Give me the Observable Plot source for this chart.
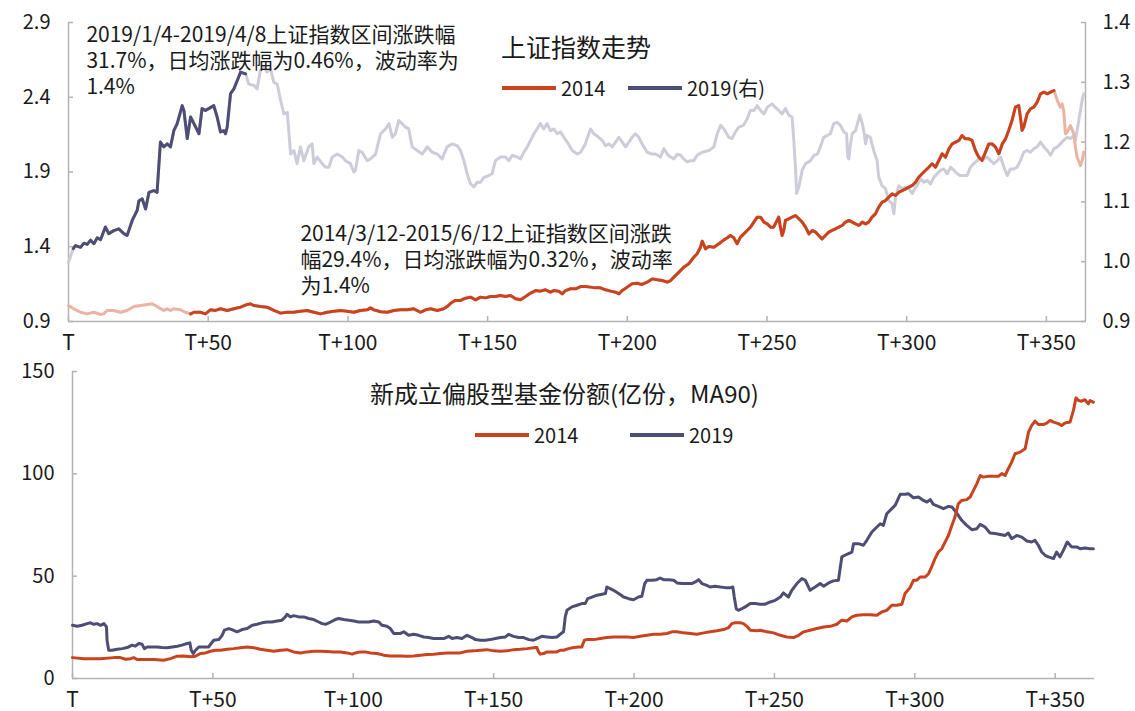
<!DOCTYPE html>
<html><head><meta charset="utf-8">
<script src="https://cdn.jsdelivr.net/npm/d3@7"></script>
<script src="https://cdn.jsdelivr.net/npm/@observablehq/plot@0.6"></script>
<style>
html,body{margin:0;padding:0;background:#fff;overflow:hidden}
body{font-family:"Noto Sans CJK SC","Noto Sans",sans-serif;color:#1a1a1a}
.panel{position:relative;width:1135px}
.panel svg{display:block}
.ov{position:absolute;white-space:nowrap;line-height:1;transform:translateY(-50%)}
.lg{display:flex;align-items:center;font-size:20px}
.sw{display:inline-block;width:54px;height:4px;margin-right:5px}
</style></head><body>
<div class="panel" id="p1"></div>
<div class="panel" id="p2"></div>
<script>
// ---------- data ----------
const xTicks = [0, 50, 100, 150, 200, 250, 300, 350];
const topLeftTicks = [0.9, 1.4, 1.9, 2.4, 2.9];
const topRightTicks = [0.9, 1.0, 1.1, 1.2, 1.3, 1.4];
const bottomTicks = [0, 50, 100, 150];
const hl2014 = [43.7, 352.7];   // 2014/3/12-2015/6/12
const hl2019 = [1.7, 63.4];     // 2019/1/4-2019/4/8

// 上证指数 2014 (left axis)
const sh2014 = [[0,1.007],[1.9,0.985],[4.3,0.962],[6.7,0.951],[9.1,0.962],[11.5,0.947],[12.6,0.951],[13.8,0.974],[16.2,0.974],[18.6,0.962],[21,0.974],[23.4,1.000],[25.8,1.007],[28.2,1.014],[30,1.018],[31.1,1.007],[33,0.985],[34.1,0.974],[35.3,0.985],[36.5,0.974],[37.7,0.985],[40.1,0.978],[41.9,0.962],[43.7,0.951],[44.9,0.962],[47.2,0.962],[49,0.951],[50.8,0.978],[52.6,0.974],[54.4,0.985],[56.8,0.974],[59.2,0.985],[61.6,0.996],[64,1.014],[65.1,1.018],[66.3,1.007],[68.7,1.000],[71.1,0.996],[73.5,0.974],[75.9,0.956],[78.3,0.962],[80.6,0.962],[83,0.969],[85.4,0.974],[87.8,0.962],[90.2,0.951],[92.6,0.962],[95,0.969],[97.4,0.974],[99.7,0.969],[102.1,0.962],[104.5,0.974],[106.9,0.978],[108.1,0.991],[109.3,0.978],[111.7,0.965],[114.1,0.962],[116.4,0.974],[118.8,0.978],[121.2,0.978],[123.6,0.985],[126,0.962],[127.8,0.978],[129.6,0.985],[132,0.974],[134.3,0.985],[135.5,1.000],[137.3,1.029],[138.5,1.041],[140.3,1.041],[142.1,1.056],[143.9,1.063],[145.7,1.045],[147.5,1.063],[149.3,1.058],[151,1.067],[152.8,1.067],[154.6,1.074],[156.4,1.067],[158.2,1.074],[160,1.052],[161.8,1.045],[163.6,1.067],[165.4,1.090],[167.2,1.107],[168.9,1.103],[170.7,1.112],[172.5,1.096],[173.7,1.107],[175.5,1.103],[176.7,1.085],[177.9,1.107],[179.7,1.119],[181.5,1.119],[183.3,1.134],[185,1.134],[186.8,1.130],[188.6,1.125],[190.4,1.125],[192.2,1.112],[194,1.103],[195.8,1.096],[197,1.085],[198.2,1.107],[200,1.130],[201.7,1.152],[203.5,1.156],[205.3,1.148],[207.1,1.163],[208.9,1.185],[210.7,1.179],[212.5,1.174],[214.3,1.163],[215.5,1.174],[216.7,1.197],[218.5,1.230],[220.2,1.263],[222,1.286],[223.8,1.330],[225,1.353],[226.2,1.397],[226.8,1.437],[228,1.386],[229.2,1.402],[231,1.397],[232.8,1.420],[234.6,1.446],[235.8,1.460],[236.9,1.475],[238.1,1.460],[239.3,1.420],[240.5,1.464],[241.7,1.486],[242.9,1.509],[244.1,1.531],[245.3,1.565],[246.5,1.598],[247.7,1.598],[248.9,1.565],[250.1,1.553],[251.3,1.531],[252.4,1.531],[253.6,1.576],[254.2,1.598],[254.8,1.531],[255.4,1.475],[256,1.509],[256.6,1.576],[257.8,1.587],[259,1.598],[260.2,1.609],[261.4,1.587],[262.6,1.565],[263.8,1.531],[265,1.486],[266.2,1.509],[267.4,1.498],[268.5,1.475],[269.7,1.453],[270.9,1.475],[272.1,1.498],[273.3,1.509],[274.5,1.520],[275.7,1.531],[276.9,1.542],[278.1,1.565],[279.3,1.576],[280.5,1.565],[281.7,1.553],[282.9,1.542],[284.1,1.565],[285.3,1.553],[286.4,1.565],[287.6,1.598],[288.8,1.620],[290,1.665],[291.2,1.698],[292.4,1.709],[293.6,1.732],[294.8,1.754],[296,1.743],[297.2,1.765],[298.4,1.776],[299.6,1.787],[300.8,1.799],[302,1.810],[303.2,1.832],[304.3,1.865],[305.5,1.888],[306.7,1.910],[307.9,1.932],[309.1,1.955],[310.3,1.932],[311.5,1.977],[312.7,2.022],[313.9,1.999],[315.1,2.055],[316.3,2.088],[317.5,2.100],[318.7,2.111],[319.8,2.144],[321,2.122],[322.2,2.122],[323.4,2.111],[324.6,2.044],[325.8,1.999],[327,1.977],[328.2,2.033],[329.4,2.088],[330.6,2.088],[331.8,2.066],[333,2.022],[334.2,2.088],[335.4,2.122],[336.5,2.178],[337.7,2.244],[338.9,2.334],[340.1,2.345],[340.7,2.267],[341.3,2.178],[341.9,2.200],[343.1,2.289],[344.3,2.323],[345.5,2.334],[346.7,2.367],[347.9,2.423],[349.1,2.434],[350.3,2.423],[351.5,2.434],[352.7,2.445],[353.9,2.378],[355,2.334],[355.6,2.356],[356.2,2.311],[356.8,2.155],[357.4,2.166],[358.6,2.211],[359.8,2.155],[360.4,2.066],[361,1.999],[362.2,1.943],[362.8,1.977],[363.4,2.033]];

// 上证指数 2019 (right axis)
const sh2019 = [[0,0.999],[1.7,1.022],[2.5,1.027],[4.3,1.024],[5.5,1.031],[6.7,1.029],[7.9,1.036],[9.1,1.030],[10.3,1.040],[11.5,1.037],[13.2,1.058],[14.4,1.047],[16.2,1.052],[18,1.055],[19.8,1.047],[21,1.044],[22.8,1.069],[24.6,1.086],[25.2,1.102],[26.4,1.105],[27.6,1.088],[28.8,1.116],[30.5,1.119],[31.7,1.116],[32.9,1.200],[34.1,1.192],[35.3,1.197],[36.5,1.192],[37.7,1.219],[38.9,1.231],[40.7,1.261],[41.3,1.253],[42.5,1.206],[43.7,1.242],[44.9,1.231],[46.7,1.214],[47.8,1.256],[49,1.253],[50.2,1.256],[52,1.261],[53.2,1.242],[54.4,1.217],[55.6,1.219],[56.2,1.214],[56.8,1.225],[58,1.281],[59.2,1.289],[60.4,1.303],[61.6,1.317],[63.4,1.314],[64.5,1.297],[66.3,1.295],[67.5,1.289],[68.7,1.320],[69.9,1.325],[71.1,1.317],[72.3,1.323],[73.5,1.300],[74.7,1.297],[75.9,1.270],[77.1,1.247],[78.3,1.250],[79.5,1.180],[80.7,1.186],[81.8,1.164],[83,1.192],[84.2,1.169],[86,1.192],[87.2,1.197],[87.8,1.164],[89,1.175],[90.8,1.164],[92,1.158],[93.2,1.158],[94.4,1.175],[96.2,1.180],[98,1.175],[99.1,1.169],[100.9,1.164],[102.1,1.150],[102.7,1.153],[103.9,1.186],[105.1,1.183],[106.9,1.169],[108.1,1.172],[109.9,1.180],[111.7,1.214],[113.5,1.222],[114.7,1.231],[115.9,1.208],[117,1.214],[118.2,1.236],[119.4,1.231],[120.6,1.225],[121.8,1.222],[123,1.192],[124.8,1.186],[126.6,1.180],[128.4,1.192],[130.2,1.183],[132,1.180],[133.7,1.172],[135.5,1.192],[137.3,1.197],[139.1,1.194],[140.3,1.186],[141.5,1.169],[142.7,1.147],[143.9,1.130],[145.1,1.125],[146.3,1.133],[147.5,1.133],[148.7,1.141],[150.4,1.144],[151.6,1.147],[152.8,1.169],[154.6,1.175],[156.4,1.175],[157.6,1.169],[158.8,1.178],[160.6,1.175],[161.8,1.172],[163,1.183],[164.2,1.192],[165.4,1.203],[166.6,1.214],[167.7,1.222],[168.9,1.231],[170.1,1.222],[171.3,1.231],[172.5,1.219],[173.7,1.222],[174.9,1.214],[176.1,1.217],[177.3,1.208],[178.5,1.200],[180.3,1.186],[182.1,1.180],[183.3,1.183],[185,1.197],[186.2,1.214],[186.8,1.222],[188,1.214],[189.8,1.208],[191,1.203],[192.2,1.194],[193.4,1.197],[194.6,1.192],[195.8,1.200],[197,1.208],[198.2,1.200],[199.4,1.192],[200.6,1.200],[201.7,1.208],[202.9,1.214],[204.1,1.208],[205.3,1.197],[207.1,1.183],[208.9,1.180],[210.1,1.180],[211.9,1.175],[213.1,1.189],[214.3,1.180],[215.5,1.175],[216.7,1.172],[217.9,1.180],[219.1,1.178],[220.2,1.172],[221.4,1.167],[222.6,1.169],[223.8,1.169],[225,1.178],[226.8,1.183],[229.2,1.186],[231,1.192],[232.2,1.214],[233.4,1.228],[234.6,1.222],[236.3,1.208],[237.5,1.206],[238.7,1.217],[239.9,1.225],[241.6,1.228],[242.9,1.239],[244.1,1.253],[245.3,1.253],[246.5,1.261],[247.7,1.253],[248.9,1.247],[250.1,1.258],[251.8,1.264],[253,1.258],[254.2,1.253],[255.4,1.247],[256.6,1.256],[257.8,1.245],[259,1.242],[259.6,1.203],[260.2,1.158],[260.6,1.114],[261.4,1.125],[262.6,1.153],[263.8,1.164],[265.6,1.169],[266.8,1.178],[268,1.180],[269.1,1.192],[270.3,1.208],[271.5,1.211],[272.7,1.214],[273.9,1.231],[275.1,1.233],[276.3,1.228],[277.5,1.217],[278.5,1.214],[278.9,1.175],[279.3,1.172],[279.9,1.197],[280.5,1.214],[281.7,1.219],[282.5,1.233],[283.2,1.245],[284.1,1.231],[284.7,1.217],[285.3,1.197],[285.8,1.211],[287,1.208],[288.2,1.186],[289.4,1.169],[290,1.141],[291.2,1.127],[292.4,1.122],[293.6,1.102],[294.8,1.097],[295.4,1.080],[296,1.108],[297.2,1.127],[298.4,1.122],[299.6,1.125],[300.8,1.122],[302,1.114],[303.2,1.125],[303.7,1.127],[304.9,1.139],[306.1,1.133],[307.3,1.136],[308.5,1.130],[309.7,1.141],[310.9,1.147],[312.1,1.153],[313.3,1.155],[314.5,1.147],[315.7,1.158],[316.9,1.153],[318.1,1.147],[319.2,1.144],[320.4,1.144],[321.6,1.144],[322.8,1.158],[324,1.164],[325.2,1.169],[326.4,1.175],[327.6,1.172],[328.8,1.175],[330,1.169],[331.2,1.164],[332.4,1.169],[333.6,1.175],[334.8,1.158],[336,1.144],[337.1,1.155],[338.3,1.155],[339.5,1.158],[340.7,1.169],[341.9,1.183],[343.1,1.186],[344.3,1.183],[345.5,1.189],[346.7,1.192],[347.9,1.200],[349.1,1.192],[350.3,1.186],[351.5,1.178],[352.7,1.189],[353.9,1.192],[355,1.197],[356.2,1.203],[357.4,1.208],[358.6,1.206],[359.8,1.211],[360.4,1.203],[361.6,1.236],[362.8,1.270],[363.4,1.281]];

// 新成立偏股型基金份额 MA90 (亿份) 2014
const fund2014 = [[0,10.2],[4,9.7],[10,9.7],[14.7,10.2],[17.1,10.2],[18.9,9.4],[20.7,9.7],[21.8,10.2],[23,9.3],[25.4,9.3],[29,9.3],[32.5,8.9],[34.9,9.7],[37.3,10.9],[39.6,11.0],[42,10.6],[43.8,10.9],[45.6,12.2],[47.4,12.5],[49.1,13.3],[50.9,13.8],[52.7,13.8],[55.1,14.3],[57.4,14.6],[59.8,15.0],[62.2,15.4],[64.6,15.0],[66.9,14.3],[69.3,13.8],[71.7,13.3],[74.1,13.8],[76.4,14.1],[78.8,13.0],[81.2,12.5],[83.5,13.0],[85.9,13.3],[88.3,13.3],[90.7,13.2],[93,13.0],[95.4,13.0],[97.8,12.5],[99.6,11.9],[100.8,12.5],[102.5,13.0],[104.3,13.0],[106.1,12.5],[108.5,12.2],[110.8,11.4],[113.2,11.0],[116.8,11.0],[119.1,10.9],[121.5,11.0],[123.9,11.4],[126.3,11.7],[128.6,11.9],[131,12.2],[133.4,12.5],[135.8,12.5],[138.1,12.5],[140.5,13.3],[142.9,13.5],[145.3,13.8],[147.6,14.1],[150,13.5],[152.4,13.3],[154.7,13.5],[157.1,14.1],[159.5,14.3],[161.9,14.6],[164.2,15.0],[165.4,15.1],[166,13.0],[166.6,11.9],[167.8,12.2],[169,13.0],[170.8,13.0],[172.5,13.0],[173.7,13.8],[174.9,13.8],[176.7,14.6],[178.5,15.1],[180.3,15.4],[181.4,15.4],[182.3,18.7],[183.2,19.0],[185.6,19.0],[188,19.5],[190.3,20.0],[192.7,20.3],[195.1,20.3],[197.5,20.3],[199.8,20.0],[202.2,20.6],[204.6,21.1],[207,21.6],[209.3,21.6],[211.7,22.0],[213.5,22.8],[215.3,22.8],[217.6,22.3],[220,22.0],[222.4,21.6],[224.8,22.3],[227.1,22.8],[229.5,23.3],[231.9,23.9],[233.7,24.9],[234.8,26.8],[236,27.2],[237.8,27.2],[239,26.8],[240.2,25.5],[241.4,23.6],[243.7,23.3],[244.9,23.6],[247.3,22.8],[249.7,22.3],[252.1,21.1],[254.4,20.3],[256.8,20.0],[258.6,21.1],[260.4,22.8],[262.7,23.6],[265.1,24.4],[267.5,25.2],[269.9,25.5],[272.2,26.5],[274,28.5],[275.8,28.1],[277.6,30.1],[279.3,30.9],[281.7,31.2],[284.1,31.2],[286.5,30.9],[288.2,32.5],[290,33.3],[291.8,35.8],[293.6,35.8],[295.4,36.3],[296.5,41.5],[298.3,44.4],[299.5,48.0],[300.7,48.0],[301.9,49.6],[303.7,49.6],[304.9,51.2],[306,54.5],[307.2,58.6],[308.4,61.8],[309.6,63.4],[310.8,66.7],[312,70.0],[313.2,74.8],[314.3,78.9],[315.5,85.4],[316.7,87.0],[318.5,87.4],[319.7,88.7],[320.9,91.9],[322.1,95.2],[323.3,99.2],[324.4,98.4],[326.2,98.8],[328,98.8],[329.8,98.8],[331,100.1],[332.2,99.2],[333.3,102.5],[334.5,105.7],[335.7,109.8],[337.5,110.6],[339.3,112.3],[340.5,120.4],[341.6,123.6],[342.8,125.8],[344,124.1],[345.8,124.1],[347,124.8],[348.2,126.1],[349.4,125.3],[351.1,124.5],[352.3,123.6],[353.5,124.8],[355.3,125.3],[356.5,131.0],[357.4,137.1],[358.3,135.8],[359.4,135.5],[360.6,136.2],[361.8,134.2],[362.4,135.8],[363.6,135.0]];

// 新成立偏股型基金份额 MA90 (亿份) 2019
const fund2019 = [[0,26.0],[1.7,25.5],[3.4,26.0],[5.2,26.8],[6.4,27.2],[7.6,26.5],[8.8,26.8],[10,26.0],[11.2,26.8],[12.1,25.2],[12.3,18.7],[12.9,13.8],[14.1,13.8],[15.9,14.3],[17.7,14.6],[19.5,15.1],[21.2,16.3],[22.4,15.8],[23.6,17.1],[24.8,16.7],[25.6,14.6],[26.6,15.4],[28.4,15.4],[30.1,15.4],[31.9,15.1],[33.7,15.0],[35.5,15.4],[37.3,15.8],[39,16.3],[40.8,17.1],[41.8,17.4],[42.3,13.8],[43,12.2],[43.8,13.8],[45,15.4],[46.8,15.4],[48.5,15.4],[49.4,17.1],[50.3,18.7],[52.1,19.0],[53.3,21.1],[54.1,23.6],[55.7,24.4],[56.8,23.9],[58.6,22.8],[60.4,23.9],[62.2,24.4],[64,26.0],[65.7,26.5],[67.5,27.2],[69.3,27.6],[71.1,27.6],[72.9,28.1],[74.6,28.5],[75.8,30.1],[76.4,31.4],[77.6,30.1],[78.8,30.7],[80.6,30.1],[82.4,30.1],[84.1,29.3],[85.9,28.8],[87.7,27.6],[88.9,26.8],[90.1,26.5],[91.9,27.6],[93.6,28.8],[94.8,29.3],[96.6,28.8],[98.4,28.5],[100.2,28.1],[101.9,27.6],[103.7,27.6],[105.5,27.6],[107.3,28.1],[109.1,27.6],[110.2,26.0],[112,25.5],[113.2,24.4],[114.4,22.0],[115.6,22.0],[116.8,22.0],[118,22.8],[119.7,21.1],[121.5,21.6],[123.3,21.1],[125.1,20.3],[126.9,20.0],[128.6,19.5],[130.4,19.5],[132.2,19.5],[134,20.6],[135.2,19.5],[136.9,20.0],[138.7,19.5],[140.5,21.1],[142.3,20.0],[143.5,19.0],[145.3,18.7],[147,18.7],[148.8,19.0],[150.6,19.5],[152.4,20.0],[154.2,20.3],[155.3,21.6],[157.1,20.6],[158.9,20.0],[160.7,20.0],[162.5,19.0],[164.2,18.7],[165.4,19.5],[167.2,20.6],[169,20.3],[170.8,20.0],[172.5,20.3],[173.7,21.6],[174.9,22.8],[175.5,30.1],[176.1,33.3],[177.9,35.0],[179.7,35.8],[181.4,36.6],[182.6,36.6],[183.5,39.0],[185,39.8],[186.8,40.7],[188.6,41.2],[189.8,41.5],[190.3,44.7],[191.5,43.9],[192.7,43.1],[194.5,41.5],[196.3,39.8],[198.1,39.0],[199.8,38.5],[201.6,39.8],[202.8,40.2],[203.8,46.4],[204.6,48.0],[206.4,48.0],[208.1,48.3],[209.3,49.1],[210.5,48.3],[212.3,48.3],[214.1,48.0],[215.3,46.7],[217,46.4],[218.8,46.4],[220.6,46.4],[221.8,47.2],[223,48.3],[224.2,46.4],[225.9,45.5],[227.1,44.7],[228.9,45.1],[230.7,44.7],[232.5,44.4],[234.3,44.4],[235.2,44.7],[235.7,39.8],[236.4,34.1],[237.2,33.3],[238.4,34.1],[239.6,35.0],[241.4,36.6],[243.2,36.6],[244.9,36.3],[246.7,36.3],[248.5,37.4],[250.3,38.2],[252.1,39.8],[253.2,41.8],[255,39.8],[256.2,43.1],[258,46.4],[259.8,48.8],[261,48.0],[262.7,43.1],[264.5,44.7],[266.3,46.4],[267.5,45.1],[269.3,46.7],[271,47.7],[272.8,48.0],[274,59.4],[275.8,60.7],[277.6,61.8],[278.2,65.9],[279.9,65.9],[281.7,65.1],[282.9,67.5],[284.7,71.6],[286.5,74.0],[287.7,75.6],[288.8,74.8],[290,80.5],[291.8,83.0],[293,84.6],[294.8,90.0],[296.6,90.0],[297.7,90.3],[299.5,88.3],[301.3,88.7],[303.1,87.0],[304.3,86.2],[305.5,87.4],[306.6,85.1],[308.4,84.1],[310.2,83.0],[312,84.1],[313.2,83.8],[314.9,80.9],[316.7,77.3],[318.5,74.8],[320.3,72.7],[322.1,73.2],[323.3,75.3],[325,74.0],[326.8,71.1],[328.6,70.8],[330.4,70.4],[332.2,69.9],[333.3,71.1],[334.5,68.3],[336.3,69.9],[338.1,69.1],[339.9,67.2],[341.6,66.7],[342.8,67.5],[344,65.1],[345.2,61.8],[346.4,60.2],[347.6,59.4],[349.4,58.6],[350.5,61.8],[351.7,59.4],[352.9,62.6],[354.3,66.7],[355.9,64.3],[357.7,64.3],[358.9,63.4],[360.6,63.8],[362.4,63.4],[363.6,63.4]];

const ann2019 = "2019/1/4-2019/4/8上证指数区间涨跌幅\n31.7%，日均涨跌幅为0.46%，波动率为\n1.4%";
const ann2014 = "2014/3/12-2015/6/12上证指数区间涨跌\n幅29.4%，日均涨跌幅为0.32%，波动率\n为1.4%";

// ---------- styling ----------
const RED = "#C9431E", NAVY = "#4E4D76", RED_L = "#EDB3A2", NAVY_L = "#CDCDD9";
const AXIS = "#B3B3B3", INK = "#1a1a1a";
const FONT = '"Noto Sans CJK SC","Noto Sans",sans-serif';
const X_MAX = 364;
const xFmt = d => d === 0 ? "T" : "T+" + d;

// right-axis (2019) values mapped onto the left scale
const toLeft = v => 0.9 + (v - 0.9) * 4;
const fromLeft = v => 0.9 + (v - 0.9) / 4;

const rows = (arr, f = v => v) => arr.map(([t, v]) => ({t, v: f(v)}));
const inRange = (r, [a, b]) => r.filter(d => d.t >= a && d.t <= b);

const top14 = rows(sh2014), top19 = rows(sh2019, toLeft);
const lineOpt = {x: "t", y: "v", strokeWidth: 3, strokeLinejoin: "round", strokeLinecap: "round"};

function frameMarks(yMin, leftTicks, fmt) {
  return [
    Plot.ruleX([0], {stroke: AXIS, strokeWidth: 1.5}),
    Plot.ruleY([yMin], {stroke: AXIS, strokeWidth: 1.5}),
    Plot.axisY(leftTicks, {anchor: "left", tickSize: 5, dx: 5, fill: "none", stroke: AXIS, strokeWidth: 1.5, label: null}),
    Plot.axisY(leftTicks, {anchor: "left", tickSize: 0, tickPadding: 18, tickFormat: fmt, fontSize: 20, fill: INK, label: null}),
    Plot.axisX(xTicks, {anchor: "bottom", tickSize: 5, dy: -5, fill: "none", stroke: AXIS, strokeWidth: 1.5, label: null}),
    Plot.axisX(xTicks, {anchor: "bottom", tickSize: 0, tickPadding: 14, tickFormat: xFmt, fontSize: 21, fill: INK, label: null})
  ];
}

const rightTicksL = topRightTicks.map(toLeft);

const topChart = Plot.plot({
  width: 1135, height: 355,
  marginLeft: 68, marginRight: 50, marginTop: 22, marginBottom: 34,
  style: {fontFamily: FONT, fontSize: "20px", color: INK, background: "transparent", overflow: "visible"},
  x: {domain: [0, X_MAX], axis: null, label: null},
  y: {domain: [0.9, 2.9], axis: null, label: null},
  marks: [
    ...frameMarks(0.9, topLeftTicks, d => d.toFixed(1)),
    Plot.ruleX([X_MAX], {stroke: AXIS, strokeWidth: 1.5}),
    Plot.axisY(rightTicksL, {anchor: "right", tickSize: 5, dx: -5, fill: "none", stroke: AXIS, strokeWidth: 1.5, label: null}),
    Plot.axisY(rightTicksL, {anchor: "right", tickSize: 0, tickPadding: 17, tickFormat: d => fromLeft(d).toFixed(1), fontSize: 20, fill: INK, label: null}),
    Plot.line(top19, {...lineOpt, stroke: NAVY_L}),
    Plot.line(inRange(top19, hl2019), {...lineOpt, stroke: NAVY}),
    Plot.line(top14, {...lineOpt, stroke: RED_L}),
    Plot.line(inRange(top14, hl2014), {...lineOpt, stroke: RED}),
    Plot.text([{t: 6.4, v: 2.891, s: ann2019}], {x: "t", y: "v", text: "s", textAnchor: "start", lineAnchor: "top", lineHeight: 1.24, fontSize: 21, fill: INK}),
    Plot.text([{t: 83.0, v: 1.560, s: ann2014}], {x: "t", y: "v", text: "s", textAnchor: "start", lineAnchor: "top", lineHeight: 1.24, fontSize: 21, fill: INK})
  ]
});

const bottomChart = Plot.plot({
  width: 1135, height: 356,
  marginLeft: 72, marginRight: 41, marginTop: 16, marginBottom: 33,
  style: {fontFamily: FONT, fontSize: "20px", color: INK, background: "transparent", overflow: "visible"},
  x: {domain: [0, X_MAX], axis: null, label: null},
  y: {domain: [0, 150], axis: null, label: null},
  marks: [
    ...frameMarks(0, bottomTicks, d => String(d)),
    Plot.line(rows(fund2019), {...lineOpt, stroke: NAVY}),
    Plot.line(rows(fund2014), {...lineOpt, stroke: RED})
  ]
});

const p1 = document.getElementById("p1"), p2 = document.getElementById("p2");
p1.appendChild(topChart);
p2.appendChild(bottomChart);

function addDiv(parent, html, left, top, cls) {
  const d = document.createElement("div");
  d.className = "ov " + (cls || "");
  d.style.left = left + "px";
  d.style.top = top + "px";
  d.innerHTML = html;
  parent.appendChild(d);
}
const legendItem = (color, label) => `<span class="sw" style="background:${color}"></span><span>${label}</span>`;

addDiv(p1, "上证指数走势", 501, 46, "");
p1.lastChild.style.fontSize = "25px";
addDiv(p1, legendItem(RED, "2014"), 502, 88, "lg");
addDiv(p1, legendItem(NAVY, "2019(右)"), 628, 88, "lg");

addDiv(p2, "新成立偏股型基金份额(亿份，MA90)", 370, 38, "");
p2.lastChild.style.fontSize = "24px";
addDiv(p2, legendItem(RED, "2014"), 475, 80, "lg");
addDiv(p2, legendItem(NAVY, "2019"), 630, 80, "lg");
</script>
</body></html>
